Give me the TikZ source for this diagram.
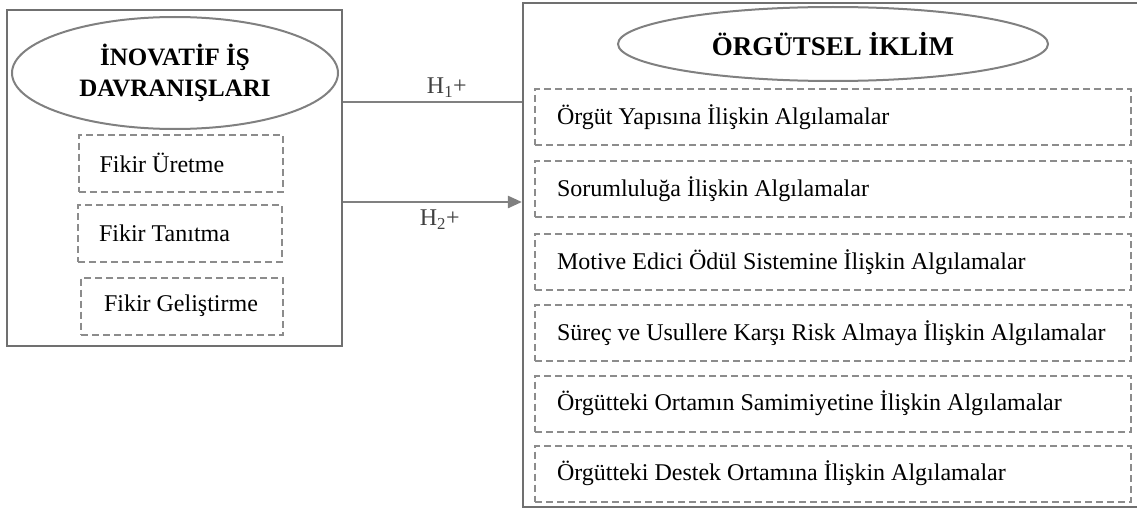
\documentclass[tikz,border=0pt]{standalone}
\usepackage{fontspec}
\setmainfont{Liberation Serif}
\usepackage{xcolor}
\usetikzlibrary{arrows.meta,shapes.geometric}
\definecolor{framegray}{HTML}{707070}
\definecolor{ovalgray}{HTML}{808080}
\definecolor{dashgray}{HTML}{8C8C8C}
\definecolor{labelgray}{HTML}{404040}

\begin{document}
\begin{tikzpicture}[x=1pt,y=-1pt]
\tikzset{every node/.style={font=\fontsize{24}{30}\selectfont}}
\tikzset{outerbox/.style={draw=framegray,line width=2.2pt,inner sep=0pt}}
\tikzset{headoval/.style={ellipse,draw=ovalgray,line width=2pt,inner sep=0pt,align=center,font=\fontsize{25}{31}\selectfont\bfseries}}
\tikzset{leftitem/.style={draw=dashgray,line width=2pt,dash pattern=on 7pt off 4pt,inner xsep=21pt,minimum height=57pt}}
\tikzset{rightitem/.style={draw=dashgray,line width=2pt,dash pattern=on 7pt off 4pt,inner xsep=22pt,minimum height=56pt}}
\tikzset{hyplink/.style={draw=ovalgray,line width=2.5pt}}

\useasboundingbox (0,0) rectangle (1137,511);

\node[outerbox,minimum width=335pt,minimum height=336pt] (inov) at (174.5,178) {};
\node[outerbox,minimum width=615pt,minimum height=504pt] (iklim) at (830.5,255) {};

\node[headoval,minimum width=326pt,minimum height=112pt] (inovhead) at (175,73) {İNOVATİF İŞ\\DAVRANIŞLARI};
\node[leftitem] (uretme) at (180.5,163) {\makebox[162pt][l]{Fikir Üretme}};
\node[leftitem] (tanitma) at (180,233.5) {\makebox[162pt][l]{Fikir Tanıtma}};
\node[leftitem] (gelistirme) at (182,306) {\makebox[160pt][l]{\hspace{2pt}Fikir Geliştirme}};

\node[headoval,font=\fontsize{27}{30}\selectfont\bfseries,minimum width=430pt,minimum height=74pt] (iklimhead) at (833,44) {ÖRGÜTSEL İKLİM};
\node[rightitem] (yapi) at (833,117) {\makebox[552pt][l]{Örgüt Yapısına İlişkin Algılamalar}};
\node[rightitem] (sorumluluk) at (833,189) {\makebox[552pt][l]{Sorumluluğa İlişkin Algılamalar}};
\node[rightitem] (odul) at (833,262) {\makebox[552pt][l]{Motive Edici Ödül Sistemine İlişkin Algılamalar}};
\node[rightitem] (risk) at (833,333) {\makebox[552pt][l]{Süreç ve Usullere Karşı Risk Almaya İlişkin Algılamalar}};
\node[rightitem] (samimiyet) at (833,403.5) {\makebox[552pt][l]{Örgütteki Ortamın Samimiyetine İlişkin Algılamalar}};
\node[rightitem] (destek) at (833,473.5) {\makebox[552pt][l]{Örgütteki Destek Ortamına İlişkin Algılamalar}};

\draw[hyplink] (inov.east |- 0,102) -- (iklim.west |- 0,102)
  node[pos=0.58,above=0pt,text=labelgray] (hone) {H\textsubscript{1}+};
\draw[hyplink,-{Triangle[length=14pt,width=12pt]}] (inov.east |- 0,202) -- (iklim.west |- 0,202)
  node[pos=0.54,below=3pt,text=labelgray] (htwo) {H\textsubscript{2}+};

\end{tikzpicture}
\end{document}
